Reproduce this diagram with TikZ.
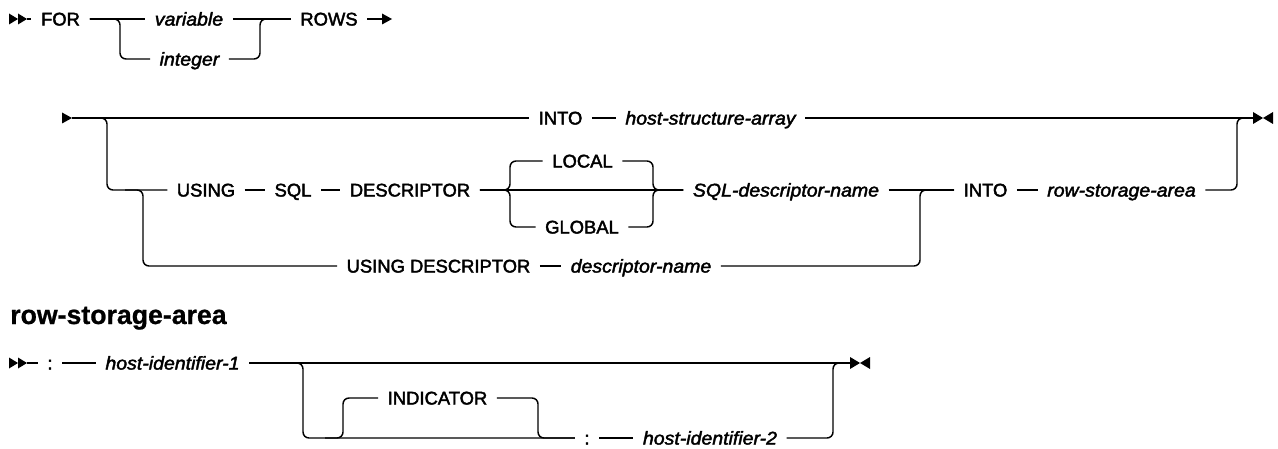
\documentclass[tikz,border=0pt]{standalone}
\usepackage{fontspec}
\setmainfont{Liberation Sans}[FakeBold=2.2, ItalicFeatures={FakeStretch=1.06}]
\newfontfamily\hdrfont{Liberation Sans}[FakeBold=0.8]
\usetikzlibrary{calc}
\newcommand\rtri[1]{\fill (#1) ++(0,-5.5) -- ++(9,5.5) -- ++(-9,5.5) -- cycle;}
\newcommand\rtrib[1]{\fill (#1) ++(0,-5.5) -- ++(10,5.5) -- ++(-10,5.5) -- cycle;}
\newcommand\stopmark[1]{\fill (#1) ++(0,-6) -- ++(10,6) -- ++(-10,6) -- cycle; \fill (#1) ++(20,-6) -- ++(-10,6) -- ++(10,6) -- cycle;}
\begin{document}
\begin{tikzpicture}[x=0.75pt, y=-0.75pt,
  kw/.style={inner xsep=7pt, inner ysep=0pt, text height=9.8pt, text depth=0pt, font=\fontsize{13.8}{16}\selectfont},
  var/.style={kw, font=\fontsize{13.8}{16}\selectfont\itshape},
  conn/.style={draw, line width=1.1pt, rounded corners=4.5pt},
]
\useasboundingbox (0,0) rectangle (1278,449);

% ---------- row 1 ----------
\coordinate (s1) at (9,19);
\coordinate (s1e) at (27,19);
\node[kw] (for) at (60.5,19) {FOR};
\node[var] (variable) at (189,19) {variable};
\node[var] (integer) at (189.5,59) {integer};
\node[kw] (rows) at (329,19) {ROWS};
\coordinate (j1) at (120,19);
\coordinate (j2) at (260,19);
\coordinate (c1) at (382,19);
\rtri{s1}
\rtri{$(s1)+(9,0)$}
\draw[conn] (s1e) -- (for.west);
\draw[conn] (for.east) -- (variable.west);
\draw[conn] (for.east) -- (j1) |- (integer.west);
\draw[conn] (variable.east) -- (rows.west);
\draw[conn] (integer.east) -| (j2) -- (rows.west);
\draw[conn] (rows.east) -- (c1);
\rtrib{c1}

% ---------- row 2 ----------
\coordinate (s2) at (62,118);
\coordinate (s2e) at (72,118);
\rtrib{s2}
\node[kw] (into1) at (560.5,118) {INTO};
\node[var] (hsa) at (710.5,118) {host-structure-array};
\coordinate (e1) at (1253,118);
\coordinate (j3) at (107,118);
\coordinate (k1) at (125,190);
\coordinate (j4) at (143,190);
\draw[conn] (s2e) -- (into1.west);
\draw[conn] (into1.east) -- (hsa.west);
\draw[conn] (hsa.east) -- (e1);
\stopmark{e1}

\node[kw] (using) at (206,190) {USING};
\node[kw] (sql) at (293,190) {SQL};
\node[kw] (descr) at (410,190) {DESCRIPTOR};
\node[kw] (local) at (582.5,161) {LOCAL};
\node[kw] (global) at (582,227) {GLOBAL};
\node[var] (sqldn) at (786,190) {SQL-descriptor-name};
\node[kw] (into2) at (985.5,190) {INTO};
\node[var] (rsa) at (1121.5,190) {row-storage-area};
\coordinate (bl) at (510,190);
\coordinate (br) at (653,190);
\coordinate (j7) at (920,190);
\coordinate (je) at (1237,118);
\draw[conn] (s2e) -- (j3) |- (using.west);
\draw[conn] (using.east) -- (sql.west);
\draw[conn] (sql.east) -- (descr.west);
\draw[conn] (descr.east) -- (sqldn.west);
\draw[conn] (descr.east) -- (bl) |- (local.west);
\draw[conn] (descr.east) -- (bl) |- (global.west);
\draw[conn] (local.east) -| (br) -- (sqldn.west);
\draw[conn] (global.east) -| (br) -- (sqldn.west);
\draw[conn] (sqldn.east) -- (into2.west);
\draw[conn] (into2.east) -- (rsa.west);
\draw[conn] (rsa.east) -| (je) -- (e1);

% ---------- row 3 ----------
\node[kw] (usingdesc) at (438.5,266) {USING DESCRIPTOR};
\node[var] (dn) at (641,266) {descriptor-name};
\draw[conn] (k1) -- (j4) |- (usingdesc.west);
\draw[conn] (usingdesc.east) -- (dn.west);
\draw[conn] (dn.east) -| (j7) -- (into2.west);

% ---------- row-storage-area ----------
\node[anchor=base west, inner sep=0pt, font=\hdrfont\fontsize{20}{24}\selectfont\bfseries] (hdr) at (10,324) {row-storage-area};

\coordinate (s3) at (9,363);
\coordinate (s3e) at (27,363);
\rtri{s3}
\rtri{$(s3)+(9,0)$}
\node[kw] (colon1) at (50,363) {:};
\node[var] (hid1) at (172.5,363) {host-identifier-1};
\coordinate (j9) at (303,363);
\coordinate (e2) at (850,363);
\coordinate (je2) at (833,363);
\node[kw] (indic) at (437.5,398) {INDICATOR};
\node[kw] (colon2) at (587,438) {:};
\node[var] (hid2) at (710,438) {host-identifier-2};
\coordinate (k3) at (325,438);
\coordinate (j10) at (343,438);
\coordinate (j11) at (538,438);
\draw[conn] (s3e) -- (colon1.west);
\draw[conn] (colon1.east) -- (hid1.west);
\draw[conn] (hid1.east) -- (e2);
\draw[conn] (hid1.east) -- (j9) |- (colon2.west);
\draw[conn] (k3) -- (j10) |- (indic.west);
\draw[conn] (indic.east) -| (j11) -- (colon2.west);
\draw[conn] (colon2.east) -- (hid2.west);
\draw[conn] (hid2.east) -| (je2) -- (e2);
\stopmark{e2}
\end{tikzpicture}
\end{document}
